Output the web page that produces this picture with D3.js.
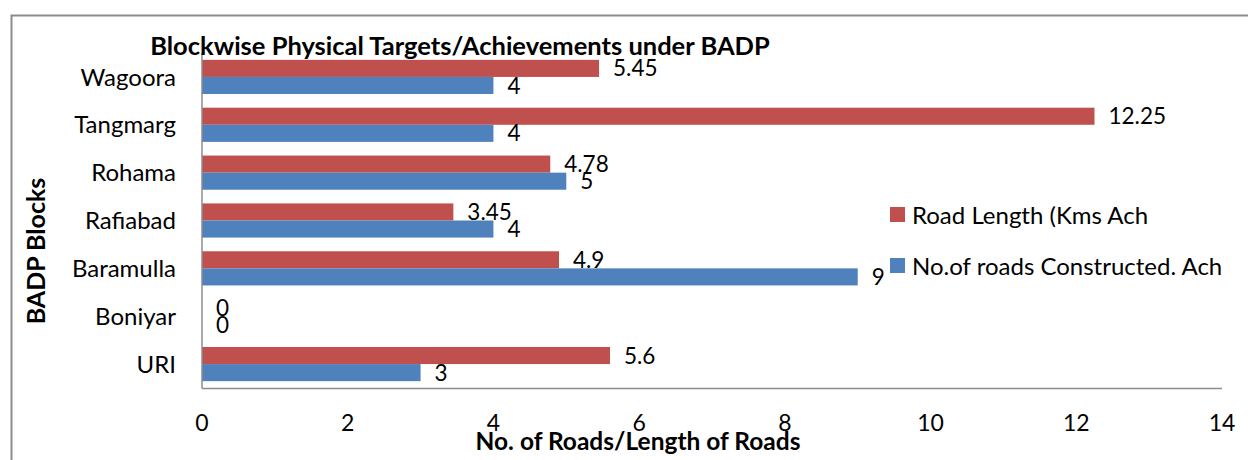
<!DOCTYPE html>
<html>
<head>
<meta charset="utf-8">
<script src="https://cdn.jsdelivr.net/npm/d3@7"></script>
<style>
  body { margin: 0; background: #fff; }
  svg { display: block; font-family: Lato, "Open Sans", sans-serif; }
</style>
</head>
<body>
<svg id="chart" width="1248" height="460"></svg>
<script>
// data, top to bottom as drawn
const blocks = ['Wagoora', 'Tangmarg', 'Rohama', 'Rafiabad', 'Baramulla', 'Boniyar', 'URI'];
const roadLength = [5.45, 12.25, 4.78, 3.45, 4.9, 0, 5.6];
const roadsBuilt = [4, 4, 5, 4, 9, 0, 3];
const seriesNames = ['Road Length (Kms Ach', 'No.of roads Constructed. Ach'];
const xTicks = [0, 2, 4, 6, 8, 10, 12, 14];

const colors = ['#C0504D', '#4F81BD'];

const svg = d3.select('#chart');

// outer frame
svg.append('rect')
  .attr('x', 11.5).attr('y', 15.5)
  .attr('width', 1300).attr('height', 500)
  .attr('fill', 'none').attr('stroke', '#8c8c8c').attr('stroke-width', 2);

const plot = {left: 202, right: 1222, top: 53, bottom: 388};

const x = d3.scaleLinear().domain([0, 14]).range([plot.left, plot.right]);
const y = d3.scaleBand().domain(blocks).range([plot.top, plot.bottom]).paddingInner(0.286).paddingOuter(0.143);
const sub = d3.scaleBand().domain([0, 1]).range([0, y.bandwidth()]);

const rows = blocks.map((b, i) => ({block: b, vals: [roadLength[i], roadsBuilt[i]]}));

const g = svg.append('g');
const groups = g.selectAll('.grp').data(rows).enter().append('g').classed('grp', true)
  .attr('transform', d => 'translate(0,' + y(d.block) + ')');

groups.selectAll('rect').data(d => d.vals).enter().append('rect')
  .attr('x', x(0))
  .attr('y', (d, i) => sub(i))
  .attr('width', d => x(d) - x(0))
  .attr('height', sub.bandwidth())
  .attr('fill', (d, i) => colors[i]);

groups.selectAll('text.val').data(d => d.vals).enter().append('text').classed('val', true)
  .attr('x', d => x(d) + 14)
  .attr('y', (d, i) => sub(i) + sub.bandwidth() / 2)
  .attr('dy', '0.36em')
  .style('font-size', '22.5px')
  .attr('fill', '#000')
  .text(d => d);

// axes lines
svg.append('line').attr('x1', plot.left).attr('x2', plot.left)
  .attr('y1', plot.top).attr('y2', plot.bottom + 0.5)
  .attr('stroke', '#8c8c8c').attr('stroke-width', 1.5);
svg.append('line').attr('x1', plot.left).attr('x2', plot.right)
  .attr('y1', plot.bottom + 0.5).attr('y2', plot.bottom + 0.5)
  .attr('stroke', '#8c8c8c').attr('stroke-width', 1.5);

// x tick labels
svg.selectAll('.xt').data(xTicks).enter().append('text').classed('xt', true)
  .attr('x', d => x(d)).attr('y', 423)
  .attr('dy', '0.36em')
  .attr('text-anchor', 'middle')
  .style('font-size', '23px')
  .text(d => d);

// category labels
svg.selectAll('.yt').data(blocks).enter().append('text').classed('yt', true)
  .attr('x', 176).attr('y', d => y(d) + y.bandwidth() / 2)
  .attr('dy', '0.36em')
  .attr('text-anchor', 'end')
  .style('font-size', '24px')
  .text(d => d);

// titles
svg.append('text').attr('x', 460).attr('y', 55)
  .attr('text-anchor', 'middle')
  .style('font-size', '25.5px').style('font-weight', 'bold')
  .text('Blockwise Physical Targets/Achievements under BADP');

svg.append('text').attr('x', 638).attr('y', 441)
  .attr('dy', '0.36em')
  .attr('text-anchor', 'middle')
  .style('font-size', '24.5px').style('font-weight', 'bold')
  .text('No. of Roads/Length of Roads');

svg.append('text')
  .attr('transform', 'translate(36,251) rotate(-90)')
  .attr('dy', '0.36em')
  .attr('text-anchor', 'middle')
  .style('font-size', '25px').style('font-weight', 'bold')
  .text('BADP Blocks');

// legend
const legend = svg.append('g').attr('transform', 'translate(890,207)');
const items = legend.selectAll('g').data(seriesNames).enter().append('g')
  .attr('transform', (d, i) => 'translate(0,' + (i * 51) + ')');
items.append('rect').attr('width', 15).attr('height', 15).attr('fill', (d, i) => colors[i]);
items.append('text').attr('x', 22).attr('y', 8).attr('dy', '0.36em')
  .style('font-size', '24px').text(d => d);
</script>
</body>
</html>
